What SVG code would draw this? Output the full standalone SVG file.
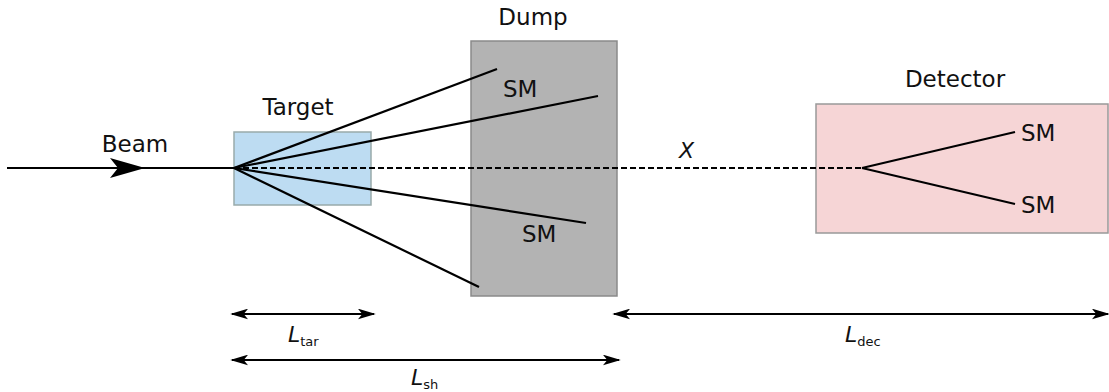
<svg xmlns="http://www.w3.org/2000/svg" width="1109" height="392" viewBox="0 0 1109 392">
<style>
.t{font-family:"DejaVu Sans",sans-serif;font-size:23px;fill:#111;}
.i{font-family:"DejaVu Sans",sans-serif;font-size:22px;font-style:italic;fill:#111;}
.s{font-family:"DejaVu Sans",sans-serif;font-size:13px;font-style:normal;fill:#111;}
.ln{stroke:#000;stroke-width:2.2;fill:none;}
.dim{stroke:#000;stroke-width:2.2;fill:none;marker-start:url(#ah);marker-end:url(#ah);}
</style>
<defs>
<marker id="ah" viewBox="0 0 20 12" refX="18" refY="6" markerWidth="18" markerHeight="11" markerUnits="userSpaceOnUse" orient="auto-start-reverse">
<path d="M0,0 L20,6 L0,12 L5,6 Z" fill="#000"/>
</marker>
</defs>
<rect width="1109" height="392" fill="#fff"/>
<g id="target">
<rect x="234" y="132" width="137" height="73" fill="#bddcf2" stroke="#9aa" stroke-width="1.5"/>
<text class="t" x="298" y="115" text-anchor="middle">Target</text>
</g>
<g id="dump">
<rect x="471" y="41" width="146" height="255" fill="#b3b3b3" stroke="#8a8a8a" stroke-width="1.5"/>
<text class="t" x="533" y="25" text-anchor="middle">Dump</text>
</g>
<g id="detector">
<rect x="816" y="104" width="292" height="129" fill="#f6d5d6" stroke="#999" stroke-width="1.5"/>
<text class="t" x="955" y="87" text-anchor="middle">Detector</text>
</g>
<g id="connectors">
<line class="ln" x1="7" y1="168" x2="234" y2="168"/>
<path d="M110,158 L145,168 L110,178 L118,168 Z" fill="#000"/>
<line x1="234" y1="168" x2="862" y2="168" stroke="#000" stroke-width="1.8" stroke-dasharray="6,3"/>
<line class="ln" x1="234" y1="168" x2="497" y2="69"/>
<line class="ln" x1="234" y1="168" x2="598" y2="96"/>
<line class="ln" x1="234" y1="168" x2="586" y2="223"/>
<line class="ln" x1="234" y1="168" x2="479" y2="287"/>
<line class="ln" x1="862" y1="168" x2="1015" y2="132"/>
<line class="ln" x1="862" y1="168" x2="1015" y2="204"/>
<line class="dim" x1="232" y1="314" x2="374" y2="314"/>
<line class="dim" x1="232" y1="360" x2="619" y2="360"/>
<line class="dim" x1="614" y1="314" x2="1108" y2="314"/>
</g>
<g id="labels">
<text class="t" x="135" y="152" text-anchor="middle">Beam</text>
<text class="t" x="503" y="97">SM</text>
<text class="t" x="522" y="242">SM</text>
<text class="t" x="1021" y="141">SM</text>
<text class="t" x="1021" y="213">SM</text>
<text class="i" x="679" y="158">X</text>
<text class="i" x="288" y="342">L<tspan class="s" dy="4">tar</tspan></text>
<text class="i" x="411" y="385">L<tspan class="s" dy="4">sh</tspan></text>
<text class="i" x="845" y="342">L<tspan class="s" dy="4">dec</tspan></text>
</g>
</svg>
